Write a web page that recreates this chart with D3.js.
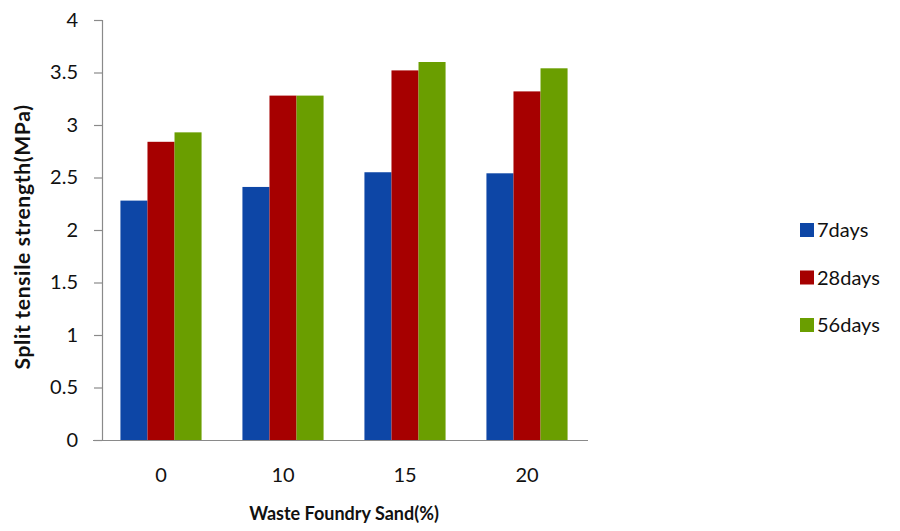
<!DOCTYPE html>
<html>
<head>
<meta charset="utf-8">
<script src="https://cdn.jsdelivr.net/npm/d3@7"></script>
<style>
  body { margin: 0; background: #fff; }
  svg { display: block; }
  text { font-family: Lato, "Open Sans", sans-serif; fill: #111; }
</style>
</head>
<body>
<svg id="chart" width="900" height="531"></svg>
<script>
const categories = ["0", "10", "15", "20"];
const seriesNames = ["7days", "28days", "56days"];
const days7 = [2.28, 2.41, 2.55, 2.54];
const days28 = [2.84, 3.28, 3.52, 3.32];
const days56 = [2.93, 3.28, 3.60, 3.54];
const yTicks = [0, 0.5, 1, 1.5, 2, 2.5, 3, 3.5, 4];
const colors = ["#0d46a6", "#a60000", "#6a9e00"];

const seriesValues = [days7, days28, days56];
const svg = d3.select("#chart");

const x = d3.scaleBand().domain(categories).range([100, 588]).paddingInner(0.335).paddingOuter(0.1675);
const xs = d3.scaleBand().domain(seriesNames).range([0, x.bandwidth()]);
const y = d3.scaleLinear().domain([0, 4]).range([440, 20]);

// bars
categories.forEach((c, i) => {
  seriesNames.forEach((s, j) => {
    svg.append("rect")
      .attr("x", x(c) + xs(s))
      .attr("y", y(seriesValues[j][i]))
      .attr("width", xs.bandwidth())
      .attr("height", y(0) - y(seriesValues[j][i]))
      .attr("fill", colors[j]);
  });
});

// y axis
const yAxis = svg.append("g").attr("transform", "translate(102,0)")
  .call(d3.axisLeft(y).tickValues(yTicks).tickSize(8).tickPadding(16).tickFormat(d => d));
yAxis.selectAll("path, line").attr("stroke", "#8a8a8a").attr("stroke-width", 1.2);
yAxis.selectAll("text").attr("font-size", 20).attr("font-family", "Lato, sans-serif").attr("fill", "#111");

// x axis
const xAxis = svg.append("g").attr("transform", "translate(0,440)")
  .call(d3.axisBottom(x).tickSize(0).tickPadding(28));
xAxis.select("path").attr("d", "M93,0.5H588").attr("stroke", "#8a8a8a").attr("stroke-width", 1.2);
xAxis.selectAll("text").attr("font-size", 20).attr("font-family", "Lato, sans-serif").attr("fill", "#111");

// axis titles
svg.append("text").attr("x", 344).attr("y", 520).attr("text-anchor", "middle")
  .attr("font-size", 18).attr("font-weight", "bold").text("Waste Foundry Sand(%)");
svg.append("text").attr("transform", "translate(30,237) rotate(-90)").attr("text-anchor", "middle")
  .attr("font-size", 21).attr("font-weight", "bold").attr("letter-spacing", 0.7)
  .text("Split tensile strength(MPa)");

// legend
const legend = svg.append("g");
seriesNames.forEach((s, j) => {
  const cy = 230 + j * 47.5;
  legend.append("rect").attr("x", 800).attr("y", cy - 7).attr("width", 14).attr("height", 14).attr("fill", colors[j]);
  legend.append("text").attr("x", 817).attr("y", cy + 7).attr("font-size", 20).text(s);
});
</script>
</body>
</html>
